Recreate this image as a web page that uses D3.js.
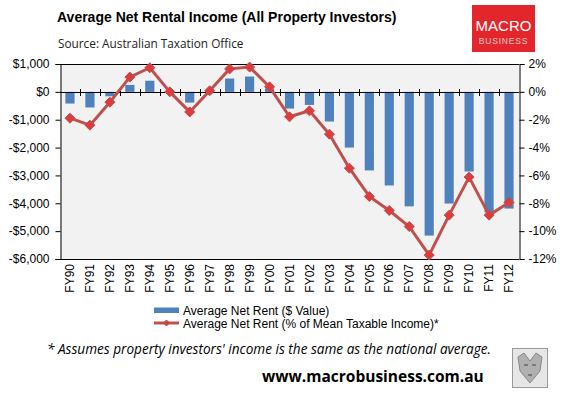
<!DOCTYPE html>
<html><head><meta charset="utf-8">
<script src="https://cdn.jsdelivr.net/npm/d3@7/dist/d3.min.js"></script>
<style>
html,body{margin:0;padding:0;background:#fff;}
svg{display:block;}
</style></head>
<body><svg id="c" width="565" height="396"></svg>
<script>
const categories = ["FY90","FY91","FY92","FY93","FY94","FY95","FY96","FY97","FY98","FY99","FY00","FY01","FY02","FY03","FY04","FY05","FY06","FY07","FY08","FY09","FY10","FY11","FY12"];
const rentDollars = [-420,-560,-160,250,400,0,-385,0,478,550,120,-600,-470,-1065,-2000,-2820,-3360,-4110,-5160,-4010,-2860,-4330,-4190];
const rentPct = [-1.89,-2.39,-0.74,1.06,1.73,0.0,-1.44,0.08,1.65,1.78,0.36,-1.79,-1.36,-3.04,-5.48,-7.51,-8.52,-9.67,-11.72,-8.85,-6.12,-8.85,-7.94];
const leftTicks = [1000,0,-1000,-2000,-3000,-4000,-5000,-6000];
const rightTicks = [2,0,-2,-4,-6,-8,-10,-12];
const seriesNames = ["Average Net Rent ($ Value)","Average Net Rent (% of Mean Taxable Income)*"];

const svg = d3.select("#c");
const L = 60, R = 519, T = 64, B = 259;
const font = "'Liberation Sans', Arial, sans-serif";

const x = d3.scaleBand().domain(categories).range([L, R]);
const yL = d3.scaleLinear().domain([-6000, 1000]).range([B, T]);
const yR = d3.scaleLinear().domain([-12, 2]).range([B, T]);

// plot background
svg.append("rect").attr("x", L).attr("y", T).attr("width", R - L).attr("height", B - T).attr("fill", "#f2f2f2");

// bars
const bw = x.bandwidth() * 0.46;
svg.append("g").selectAll("rect").data(rentDollars).join("rect")
  .attr("x", (d, i) => x(categories[i]) + (x.bandwidth() - bw) / 2)
  .attr("width", bw)
  .attr("y", d => Math.min(yL(d), yL(0)))
  .attr("height", d => Math.abs(yL(d) - yL(0)))
  .attr("fill", "#4f81bd");

// border
svg.append("line").attr("x1", L).attr("x2", R).attr("y1", T + 0.5).attr("y2", T + 0.5).attr("stroke", "#000");
svg.append("line").attr("x1", L).attr("x2", R).attr("y1", B + 0.5).attr("y2", B + 0.5).attr("stroke", "#000");

// zero category line with crossing ticks
const zy = Math.round(yL(0)) + 0.5;
svg.append("line").attr("x1", L).attr("x2", R).attr("y1", zy).attr("y2", zy).attr("stroke", "#000");
const bounds = categories.map(c => x(c)).slice(1);
svg.append("g").selectAll("line").data(bounds).join("line")
  .attr("x1", d => Math.round(d) + 0.5).attr("x2", d => Math.round(d) + 0.5)
  .attr("y1", zy - 3.5).attr("y2", zy + 3.5).attr("stroke", "#000");

// left axis
const axL = d3.axisLeft(yL).tickValues(leftTicks).tickSize(5).tickPadding(6)
  .tickFormat(d => (d < 0 ? "-" : "") + "$" + d3.format(",")(Math.abs(d)));
const gL = svg.append("g").attr("transform", `translate(${L + 0.5},0)`).call(axL);
gL.select(".domain").attr("stroke", "#000");
gL.selectAll("text").attr("font-family", font).attr("font-size", 12).attr("fill", "#000");

// right axis
const axR = d3.axisRight(yR).tickValues(rightTicks).tickSize(5).tickPadding(4)
  .tickFormat(d => d + "%");
const gR = svg.append("g").attr("transform", `translate(${R + 0.5},0)`).call(axR);
gR.select(".domain").attr("stroke", "#000");
gR.selectAll("text").attr("font-family", font).attr("font-size", 12).attr("fill", "#000");

// x labels
svg.append("g").selectAll("text").data(categories).join("text")
  .attr("transform", d => `translate(${x(d) + x.bandwidth() / 2},264) rotate(-90)`)
  .attr("text-anchor", "end").attr("dy", "0.35em")
  .attr("font-family", font).attr("font-size", 12).text(d => d);

// line
const line = d3.line().x((d, i) => x(categories[i]) + x.bandwidth() / 2).y(d => yR(d));
svg.append("path").datum(rentPct).attr("d", line).attr("fill", "none")
  .attr("stroke", "#c0504d").attr("stroke-width", 3).attr("stroke-linejoin", "round");
const diamond = s => `M0,${-s}L${s},0L0,${s}L${-s},0Z`;
svg.append("g").selectAll("path").data(rentPct).join("path")
  .attr("transform", (d, i) => `translate(${x(categories[i]) + x.bandwidth() / 2},${yR(d)})`)
  .attr("d", diamond(5)).attr("fill", "#dd3b3e").attr("stroke", "#c0504d").attr("stroke-width", 1);

// legend
svg.append("rect").attr("x", 154).attr("y", 307.5).attr("width", 25).attr("height", 5.5).attr("fill", "#4f81bd");
svg.append("text").attr("x", 183).attr("y", 314.5).attr("font-family", font).attr("font-size", 12).text(seriesNames[0]);
svg.append("line").attr("x1", 154).attr("x2", 179).attr("y1", 323).attr("y2", 323).attr("stroke", "#c0504d").attr("stroke-width", 3);
svg.append("path").attr("transform", "translate(166.5,323)").attr("d", diamond(3)).attr("fill", "#dd3b3e").attr("stroke", "#c0504d");
svg.append("text").attr("x", 183).attr("y", 327.5).attr("font-family", font).attr("font-size", 12).text(seriesNames[1]);

// title & source
svg.append("text").attr("x", 57).attr("y", 22).attr("font-family", font).attr("font-weight", "bold").attr("font-size", 14)
  .text("Average Net Rental Income (All Property Investors)");
svg.append("text").attr("x", 58).attr("y", 48).attr("font-family", "'Open Sans', sans-serif").attr("font-size", 11.8)
  .attr("fill", "#222").text("Source: Australian Taxation Office");

// logo
const lg = svg.append("g");
lg.append("rect").attr("x", 472).attr("y", 5).attr("width", 63).attr("height", 47).attr("fill", "#e3262b");
lg.append("text").attr("x", 503.5).attr("y", 31).attr("text-anchor", "middle").attr("font-family", font)
  .attr("font-size", 15).attr("fill", "#fff").text("MACRO");
lg.append("text").attr("x", 503.5).attr("y", 44).attr("text-anchor", "middle").attr("font-family", font)
  .attr("font-size", 8.5).attr("letter-spacing", 0.8).attr("fill", "#f6c9c9").text("BUSINESS");

// footnote
svg.append("text").attr("x", 47).attr("y", 353.5).attr("font-family", "'Open Sans', sans-serif").attr("font-style", "italic")
  .attr("font-size", 13.6).text("* Assumes property investors' income is the same as the national average.");
svg.append("text").attr("x", 262).attr("y", 382).attr("font-family", "'Open Sans', sans-serif").attr("font-weight", "bold")
  .attr("font-size", 15.5).text("www.macrobusiness.com.au");

// wolf badge
const wb = svg.append("g");
wb.append("rect").attr("x", 512.5).attr("y", 348.5).attr("width", 35).attr("height", 39).attr("fill", "#e6e6e6").attr("stroke", "#999");
wb.append("path").attr("d", "M518,357 L524,353 L530,361 L536,353 L542,357 L540,371 L530,383 L520,371 Z")
  .attr("fill", "#b0b0b0").attr("stroke", "#777").attr("stroke-width", 0.8);
wb.append("path").attr("d", "M524,365 L528,365 M532,365 L536,365 M528,375 L532,375").attr("stroke", "#444").attr("stroke-width", 1.2);
</script></body></html>
